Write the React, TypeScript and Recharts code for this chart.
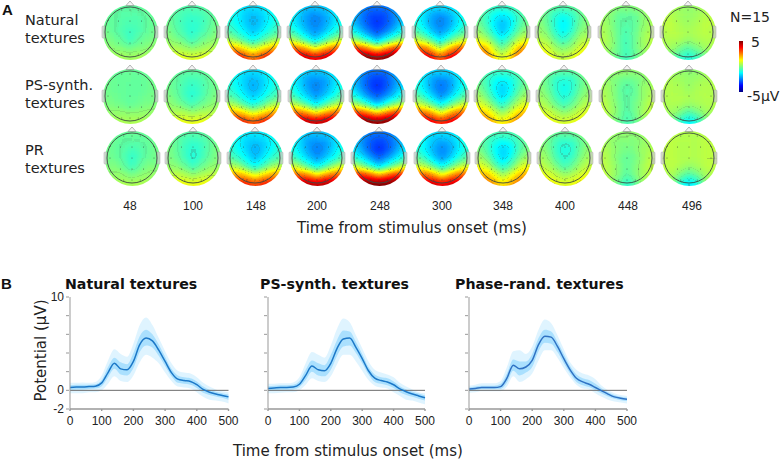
import { Area, Bar, BarChart, ComposedChart, Line, ReferenceLine, Scatter, ScatterChart, XAxis, YAxis } from "recharts";

type Grid = number[][];

// scalp potentials in uV, rows run front to back, columns run midline to edge (left/right mirrored)
const ROW_POS = [0.9, 0.6, 0.3, 0, -0.3, -0.6, -0.9];
const COL_POS = [0, 0.3, 0.6, 0.9];
const TIME_LABELS = ["48", "100", "148", "200", "248", "300", "348", "400", "448", "496"];
const ROW_LABELS = [["Natural", "textures"], ["PS-synth.", "textures"], ["PR", "textures"]];

const NATURAL_MAPS: Grid[] = [
  [[-.3,-.3,-.2,-.2],[-.4,-.4,-.3,-.2],[-.5,-.45,-.3,-.2],[-.7,-.5,-.3,-.1],[-.7,-.3,-.1,0],[-.1,0,.1,.2],[.3,.4,.4,.3]],
  [[-.4,-.4,-.3,-.2],[-.7,-.6,-.4,-.2],[-.8,-.7,-.4,-.1],[-.9,-.6,-.3,0],[-.7,-.2,0,.2],[.1,.3,.5,.5],[.9,1,1,.8]],
  [[-1.5,-1.5,-1.2,-1],[-1.9,-1.7,-1.3,-1],[-2,-1.7,-1.2,-.8],[-1.8,-1.4,-.9,-.4],[-1.2,-.6,0,.5],[.6,1.3,2,2.2],[2.5,3.2,3.8,3]],
  [[-1.8,-1.8,-1.5,-1.2],[-2.4,-2.2,-1.7,-1.2],[-2.5,-2.2,-1.7,-1.1],[-2.3,-1.9,-1.2,-.6],[-1.7,-.8,0,.7],[1,2,2.7,3],[3.8,4.2,4.3,3.7]],
  [[-2.6,-2.6,-2.3,-1.9],[-3.1,-3,-2.5,-1.9],[-3.3,-3,-2.4,-1.7],[-3,-2.5,-1.8,-1],[-2,-1,-.2,.5],[1.3,2.3,3.2,3.5],[4.6,5,5,4.5]],
  [[-1.5,-1.5,-1.3,-1],[-2.4,-2.1,-1.5,-1],[-2.5,-2.2,-1.5,-.9],[-2.3,-1.8,-1,-.4],[-1.5,-.5,.3,.8],[.5,1.8,2.8,3],[2.8,3.8,4.2,3.2]],
  [[-.7,-.7,-.4,-.3],[-1.5,-1.2,-.7,-.2],[-1.9,-1.5,-.6,-.1],[-1.9,-1.1,-.2,.3],[-1.1,-.3,.6,1],[-.2,.7,2,2.2],[.9,1.5,2.8,2.5]],
  [[-.4,-.3,-.2,0],[-1.1,-.9,-.3,0],[-1.4,-1,-.2,.1],[-1.3,-.8,0,.3],[-.8,-.2,.4,.6],[0,.3,.9,1.1],[.6,.9,1.3,1.4]],
  [[.1,.1,.2,.3],[-.3,-.3,.1,.3],[-.4,-.3,.1,.4],[-.5,-.3,.2,.5],[-.6,-.2,.3,.6],[-.6,-.2,.2,.5],[-.7,-.3,.1,.4]],
  [[.2,.3,.4,.5],[.2,.3,.5,.6],[.3,.4,.6,.6],[.4,.5,.6,.5],[.2,.4,.5,.5],[-.4,-.1,.3,.4],[-1,-.7,-.2,.2]],
];

const PS_MAPS: Grid[] = [
  [[-.2,-.2,-.2,-.1],[-.25,-.25,-.2,-.1],[-.3,-.25,-.2,-.1],[-.3,-.25,-.15,-.1],[-.3,-.15,-.05,0],[.1,.15,.2,.2],[.4,.45,.4,.3]],
  [[-.3,-.3,-.2,-.1],[-.6,-.5,-.3,-.1],[-.8,-.6,-.3,-.1],[-.9,-.6,-.2,0],[-.6,-.2,0,.2],[.2,.4,.5,.5],[1,1.1,1,.8]],
  [[-1.5,-1.5,-1.2,-.9],[-2,-1.7,-1.3,-.9],[-2.1,-1.7,-1.2,-.8],[-1.8,-1.4,-.8,-.4],[-1.1,-.6,.1,.5],[.7,1.4,2,2.2],[2.8,3.4,3.6,3]],
  [[-1.7,-1.7,-1.4,-1.1],[-2.3,-2.2,-1.7,-1.1],[-2.5,-2.2,-1.6,-1],[-2.3,-1.8,-1.2,-.5],[-1.5,-.7,.1,.7],[1.2,2.1,2.7,2.8],[4.2,4.4,4.3,3.6]],
  [[-2.6,-2.6,-2.2,-1.8],[-3.2,-3,-2.4,-1.8],[-3.4,-3,-2.3,-1.6],[-2.9,-2.4,-1.7,-.9],[-1.9,-1,-.1,.5],[1.5,2.4,3.1,3.3],[4.8,5,5,4.4]],
  [[-1.6,-1.6,-1.4,-1],[-2.4,-2.2,-1.6,-1],[-2.7,-2.3,-1.5,-.9],[-2.4,-1.8,-1,-.3],[-1.4,-.5,.3,.8],[.8,1.9,2.7,2.8],[3.3,3.9,4,3.2]],
  [[-.6,-.6,-.4,-.2],[-1.3,-1.1,-.6,-.2],[-1.7,-1.3,-.5,0],[-1.7,-1,-.1,.4],[-1,-.2,.6,1],[.1,.8,1.7,1.9],[1.2,1.8,2.5,2.2]],
  [[-.3,-.3,-.1,0],[-.9,-.8,-.3,0],[-1.1,-.9,-.2,.1],[-1,-.7,0,.3],[-.7,-.2,.3,.6],[.1,.4,.8,1],[.8,1,1.2,1.1]],
  [[.2,.2,.2,.3],[-.2,-.1,.1,.3],[-.5,-.2,.2,.4],[-.4,-.2,.2,.5],[-.4,-.1,.3,.7],[-.5,-.1,.4,.7],[-.6,-.2,.2,.5]],
  [[.1,.2,.3,.4],[.2,.3,.4,.5],[.2,.4,.5,.5],[.4,.5,.5,.5],[.3,.4,.5,.5],[-.5,-.1,.3,.4],[-1.4,-.9,-.1,.2]],
];

const PR_MAPS: Grid[] = [
  [[-.2,-.2,-.2,-.1],[-.35,-.35,-.25,-.1],[-.6,-.4,-.25,-.1],[-.8,-.45,-.2,-.1],[-.7,-.25,0,0],[-.1,.1,.2,.2],[.4,.45,.4,.3]],
  [[-.4,-.35,-.3,-.15],[-.7,-.6,-.3,-.1],[-.9,-.7,-.3,0],[-1,-.6,-.2,0],[-.7,-.2,.1,.2],[.1,.4,.6,.6],[1,1.2,1.1,.9]],
  [[-1.4,-1.4,-1.1,-.9],[-1.8,-1.7,-1.3,-.9],[-2.1,-1.7,-1.2,-.8],[-1.9,-1.4,-.8,-.4],[-1.2,-.6,.2,.5],[.7,1.5,2.1,2.2],[3,3.5,3.6,3]],
  [[-1.8,-1.8,-1.5,-1.1],[-2.3,-2.2,-1.7,-1.1],[-2.6,-2.2,-1.6,-1],[-2.3,-1.8,-1.2,-.5],[-1.4,-.7,.2,.8],[1.2,2.2,2.7,2.9],[4.3,4.5,4.4,3.7]],
  [[-2.6,-2.6,-2.2,-1.8],[-3.1,-2.9,-2.4,-1.7],[-3.4,-3,-2.2,-1.5],[-2.8,-2.2,-1.5,-.8],[-1.7,-.9,0,.7],[1.8,2.7,3.3,3.5],[5,5,5,4.5]],
  [[-1.5,-1.5,-1.3,-.9],[-2.1,-1.9,-1.4,-.9],[-2.5,-2.1,-1.4,-.9],[-2.3,-1.7,-.9,-.3],[-1.3,-.5,.4,.8],[1,2,2.8,2.9],[3.8,4.2,4.2,3.4]],
  [[-.5,-.5,-.4,-.2],[-1.2,-1,-.5,-.2],[-1.7,-1.3,-.5,0],[-1.7,-1,-.1,.4],[-1,-.3,.7,1.1],[.2,1,1.9,2.1],[1.4,2,2.7,2.4]],
  [[-.2,-.2,0,.1],[-.8,-.7,-.2,.1],[-1,-.8,-.1,.2],[-.9,-.6,.1,.4],[-.6,-.1,.4,.7],[.2,.5,.9,1.1],[.9,1.1,1.3,1.3]],
  [[.2,.2,.3,.4],[0,0,.2,.4],[-.1,0,.3,.5],[-.3,-.1,.3,.6],[-.3,0,.4,.7],[-.4,0,.4,.7],[-.9,-.3,.3,.6]],
  [[.5,.5,.6,.6],[.5,.5,.6,.6],[.5,.5,.6,.6],[.5,.5,.6,.6],[.2,.4,.6,.6],[-.5,-.1,.4,.5],[-1.5,-1,.1,.4]],
];

const ELECTRODE_X = [0, 0, 0, 0, 0, -.42, .42, -.42, .42, -.8, .8, -.8, .8, -.3, .3, -.3, .3];
const ELECTRODE_Y = [.8, .4, 0, -.4, -.8, .4, .4, -.4, -.4, 0, 0, .42, .42, .8, .8, -.8, -.8];

// head centres in px, per row
const HEAD_X = [
  [130, 192, 253, 315, 377, 440, 502, 563, 626, 688],
  [130, 192, 253, 316, 377, 441, 502, 564, 627, 689],
  [132, 193, 255, 317, 379, 442, 503, 565, 627, 689],
];
const HEAD_Y = [32, 96, 158];
const TIME_LABEL_X = [130, 193, 256, 317, 380, 442, 503, 565, 628, 692];

// ERP traces
const TIMES = [0, 20, 40, 60, 80, 100, 120, 140, 160, 180, 200, 220, 240, 260, 280, 300, 320, 340, 360, 380, 400, 420, 440, 460, 480, 500];

const NATURAL_MEAN = [.3, .35, .35, .4, .45, .8, 1.9, 2.9, 2.3, 2.2, 3.1, 4.9, 5.6, 5.3, 4.3, 3.1, 1.9, 1.2, 1.05, .95, .6, .1, -.2, -.4, -.55, -.7];
const NATURAL_OUTER_HIGH = [.8, .8, .85, .8, .9, 1.6, 3.2, 4.4, 3.9, 3.6, 5, 7, 7.8, 7, 5.6, 4.2, 2.9, 2.1, 1.9, 1.8, 1.4, .8, .4, .1, -.1, -.2];
const NATURAL_OUTER_LOW = [-.3, -.3, -.3, -.2, -.2, 0, .7, 1.5, 1, .9, 1.6, 3, 3.8, 3.5, 2.9, 1.9, 1, .4, .3, .2, -.2, -.7, -1, -1.1, -1.2, -1.4];
const NATURAL_INNER_HIGH = [.55, .6, .6, .6, .65, 1.1, 2.5, 3.5, 3, 2.8, 4, 5.8, 6.5, 6, 4.9, 3.6, 2.3, 1.6, 1.4, 1.3, .95, .4, .05, -.15, -.3, -.45];
const NATURAL_INNER_LOW = [.05, .1, .1, .15, .2, .45, 1.4, 2.3, 1.7, 1.6, 2.4, 4.1, 4.8, 4.6, 3.7, 2.6, 1.5, .8, .7, .6, .25, -.25, -.5, -.65, -.8, -1];

const PS_MEAN = [.2, .25, .3, .3, .35, .65, 1.6, 2.6, 2.2, 2.1, 2.9, 4.5, 5.5, 5.6, 4.6, 3.4, 2.1, 1.3, 1.05, .9, .6, .15, -.15, -.4, -.6, -.8];
const PS_OUTER_HIGH = [.7, .7, .75, .75, .85, 1.4, 2.9, 4.1, 3.8, 3.5, 4.8, 6.6, 7.7, 7.3, 5.9, 4.5, 3.1, 2.2, 1.9, 1.7, 1.4, .8, .4, .1, -.2, -.3];
const PS_OUTER_LOW = [-.3, -.3, -.25, -.2, -.2, 0, .6, 1.3, 1, .9, 1.5, 2.8, 3.8, 3.8, 3.1, 2.1, 1.1, .5, .3, .2, -.2, -.6, -1, -1.1, -1.3, -1.5];
const PS_INNER_HIGH = [.45, .5, .55, .55, .6, 1, 2.2, 3.2, 2.9, 2.7, 3.8, 5.4, 6.4, 6.3, 5.2, 3.9, 2.5, 1.7, 1.4, 1.3, .95, .45, .1, -.15, -.35, -.55];
const PS_INNER_LOW = [-.05, 0, .05, .05, .1, .35, 1.1, 2, 1.6, 1.5, 2.2, 3.7, 4.7, 4.8, 4, 2.9, 1.7, .9, .7, .55, .25, -.2, -.5, -.7, -.9, -1.1];

const PR_MEAN = [.15, .2, .3, .3, .3, .4, 1.3, 2.7, 2.3, 2.5, 3.2, 4.9, 5.8, 5.7, 4.7, 3.4, 2.2, 1.3, .9, .65, .3, -.05, -.4, -.7, -.85, -.95];
const PR_OUTER_HIGH = [.5, .6, .75, .75, .75, 1, 2.5, 4.2, 4.3, 3.9, 4.7, 6.5, 7.6, 7.2, 5.9, 4.4, 3, 2.2, 1.8, 1.6, 1.2, .5, 0, -.3, -.5, -.6];
const PR_OUTER_LOW = [-.25, -.2, -.1, -.1, -.1, -.1, .4, 1.5, .9, 1.2, 1.8, 3.2, 4.3, 4.3, 3.5, 2.4, 1.4, .6, .2, .1, -.3, -.7, -1, -1.2, -1.3, -1.4];
const PR_INNER_HIGH = [.3, .4, .5, .5, .5, .7, 1.8, 3.3, 3.1, 3.1, 3.9, 5.6, 6.5, 6.3, 5.2, 3.9, 2.6, 1.7, 1.3, 1.1, .7, .2, -.2, -.5, -.7, -.8];
const PR_INNER_LOW = [0, .05, .15, .15, .15, .15, .8, 2.1, 1.6, 1.9, 2.5, 4.2, 5.1, 5, 4.1, 2.9, 1.8, .9, .55, .35, 0, -.35, -.65, -.9, -1.05, -1.15];

const X_TICKS = [0, 100, 200, 300, 400, 500];
const Y_TICKS = [-2, 0, 2, 4, 6, 8, 10];
const Y_LABELLED = [-2, 0, 10];
const COLORBAR = [{ name: "scale", range: [-5, 5] }];

const HEAD_R = 27.5;
const HEAT_SIZE = 84;
const OVERLAY_SIZE = 66;
const SANS = "'Liberation Sans', Arial, sans-serif";
const WIDE = "'DejaVu Sans', Verdana, sans-serif";

// grey encodes the potential so the blur mixes values, the filter then applies the jet colormap
const gray = (v: number) => {
  const g = Math.round(((Math.max(-5, Math.min(5, v)) + 5) / 10) * 255);
  return `rgb(${g},${g},${g})`;
};

// faint iso-potential lines every 0.5 uV
const contourTable = Array.from({ length: 401 }, (_, i) => {
  const v = (i / 400) * 10 - 5 - 0.15;
  const m = ((v % 0.5) + 0.5) % 0.5;
  return m < 0.02 || m > 0.48 ? 0.3 : 0;
}).join(" ");

const gridPoints = (grid: Grid) => {
  const pts: any[] = [];
  grid.forEach((row, r) => {
    row.forEach((value, c) => {
      const sides = c === 0 ? [1] : [1, -1];
      sides.forEach((s) => {
        pts.push({ xv: COL_POS[c] * s, yv: ROW_POS[r], value, edgeX: c === 3 ? s : 0, edgeY: r === 0 ? -1 : r === 6 ? 1 : 0 });
      });
    });
  });
  return pts;
};

const HeatCell = (props: any) => {
  const { cx, cy, payload } = props;
  const s = 0.3 * HEAD_R;
  const ext = 30;
  const x = cx - s / 2 - (payload.edgeX < 0 ? ext : 0);
  const y = cy - s / 2 - (payload.edgeY < 0 ? ext : 0);
  const w = s + (payload.edgeX !== 0 ? ext : 0) + 0.5;
  const h = s + (payload.edgeY !== 0 ? ext : 0) + 0.5;
  return <rect x={x} y={y} width={w} height={h} fill={gray(payload.value)} />;
};

const ElectrodeDot = (props: any) => <circle cx={props.cx} cy={props.cy} r={0.5} fill="#333" fillOpacity={0.8} />;

const electrodes = ELECTRODE_X.map((xv, i) => ({ xv, yv: ELECTRODE_Y[i] }));

const TopoMap = ({ cx, cy, grid }: { cx: number; cy: number; grid: Grid }) => {
  const heatDomain = [-(HEAT_SIZE / 2) / HEAD_R, HEAT_SIZE / 2 / HEAD_R];
  const overDomain = [-(OVERLAY_SIZE / 2) / HEAD_R, OVERLAY_SIZE / 2 / HEAD_R];
  const c = OVERLAY_SIZE / 2;
  return (
    <>
      <div style={{ position: "absolute", left: cx - HEAD_R, top: cy - HEAD_R, width: HEAD_R * 2, height: HEAD_R * 2, borderRadius: "50%", overflow: "hidden" }}>
        <div style={{ position: "absolute", left: HEAD_R - HEAT_SIZE / 2, top: HEAD_R - HEAT_SIZE / 2, width: HEAT_SIZE, height: HEAT_SIZE, filter: "url(#jetmap)" }}>
          <ScatterChart width={HEAT_SIZE} height={HEAT_SIZE} margin={{ top: 0, right: 0, bottom: 0, left: 0 }}>
            <XAxis type="number" dataKey="xv" domain={heatDomain} hide />
            <YAxis type="number" dataKey="yv" domain={heatDomain} hide />
            <Scatter data={gridPoints(grid)} shape={HeatCell} isAnimationActive={false} />
          </ScatterChart>
        </div>
      </div>
      <div style={{ position: "absolute", left: cx - c, top: cy - c, width: OVERLAY_SIZE, height: OVERLAY_SIZE }}>
        <ScatterChart width={OVERLAY_SIZE} height={OVERLAY_SIZE} margin={{ top: 0, right: 0, bottom: 0, left: 0 }}>
          <XAxis type="number" dataKey="xv" domain={overDomain} hide />
          <YAxis type="number" dataKey="yv" domain={overDomain} hide />
          <g>
            <polygon points={`${c - 4},${c - 26.5} ${c},${c - 31} ${c + 4},${c - 26.5}`} fill="#f4f4f4" stroke="#888" strokeWidth={0.6} />
            <rect x={c - 28} y={c - 6} width={3} height={12} rx={1} fill="#ccc" fillOpacity={0.7} stroke="#aaa" strokeWidth={0.5} />
            <rect x={c + 25} y={c - 6} width={3} height={12} rx={1} fill="#ccc" fillOpacity={0.7} stroke="#aaa" strokeWidth={0.5} />
            <circle cx={c} cy={c} r={25} fill="none" stroke="#3d4a44" strokeWidth={0.9} />
          </g>
          <Scatter data={electrodes} shape={ElectrodeDot} isAnimationActive={false} />
        </ScatterChart>
      </div>
    </>
  );
};

const YTick = (props: any) => {
  const { x, y, payload, showLabels } = props;
  return (
    <g>
      <line x1={x + 4} x2={x + 7} y1={y} y2={y} stroke="#999" />
      {showLabels && Y_LABELLED.includes(payload.value) ? (
        <text x={x + 2} y={y + 4} textAnchor="end" fontSize={12} fontFamily={SANS} fill="#222">{payload.value}</text>
      ) : null}
    </g>
  );
};

const ErpChart = ({ left, mean, outerHigh, outerLow, innerHigh, innerLow, lineColor, showLabels, width }: any) => {
  const data = TIMES.map((t, i) => ({
    t,
    mean: mean[i],
    outer: [outerLow[i], outerHigh[i]],
    inner: [innerLow[i], innerHigh[i]],
  }));
  return (
    <div style={{ position: "absolute", left, top: 285 }}>
      <ComposedChart width={width + 50} height={149} data={data} margin={{ top: 12, right: 20, bottom: 0, left: 0 }}>
        <XAxis
          type="number"
          dataKey="t"
          domain={[0, 500]}
          ticks={X_TICKS}
          height={25}
          tickSize={2}
          stroke="#999"
          strokeWidth={1.4}
          tick={{ fontSize: 12, fontFamily: SANS, fill: "#222" }}
          tickMargin={5}
        />
        <YAxis type="number" domain={[-2, 10]} ticks={Y_TICKS} width={30} interval={0} tickLine={false} stroke="#999" tick={<YTick showLabels={showLabels} />} />
        <Area dataKey="outer" type="monotone" stroke="none" fill="#7fd4ff" fillOpacity={0.25} isAnimationActive={false} dot={false} activeDot={false} />
        <Area dataKey="inner" type="monotone" stroke="none" fill="#4dbdfb" fillOpacity={0.36} isAnimationActive={false} dot={false} activeDot={false} />
        <ReferenceLine y={0} stroke="#6b6b6b" strokeWidth={1} />
        <Line dataKey="mean" type="monotone" stroke={lineColor} strokeWidth={1.5} dot={false} isAnimationActive={false} />
      </ComposedChart>
    </div>
  );
};

const label = (text: string, left: number, top: number, size: number, extra: any = {}) => {
  const { key, ...style } = extra;
  return (
    <div key={key} style={{ position: "absolute", left, top, fontSize: size, lineHeight: 1, whiteSpace: "nowrap", fontFamily: WIDE, color: "#222", ...style }}>{text}</div>
  );
};

export default function App() {
  const rows = [NATURAL_MAPS, PS_MAPS, PR_MAPS];
  return (
    <div style={{ position: "absolute", left: 0, top: 0, width: 780, height: 463, background: "#fff", overflow: "hidden" }}>
      <svg width={0} height={0} style={{ position: "absolute" }}>
        <defs>
          <filter id="jetmap" x="0" y="0" width="1" height="1" colorInterpolationFilters="sRGB">
            <feGaussianBlur in="SourceGraphic" stdDeviation={3.6} result="b" />
            <feComponentTransfer in="b" result="c">
              <feFuncR type="table" tableValues="0 0 0 0 .5 1 1 1 .5" />
              <feFuncG type="table" tableValues="0 0 .5 1 1 1 .5 0 0" />
              <feFuncB type="table" tableValues=".5 1 1 1 .5 0 0 0 0" />
            </feComponentTransfer>
            <feColorMatrix in="b" type="matrix" values="0 0 0 0 .3  0 0 0 0 .35  0 0 0 0 .3  1 0 0 0 0" result="a" />
            <feComponentTransfer in="a" result="l">
              <feFuncA type="table" tableValues={contourTable} />
            </feComponentTransfer>
            <feMerge>
              <feMergeNode in="c" />
              <feMergeNode in="l" />
            </feMerge>
          </filter>
          <linearGradient id="jetbar" x1="0" y1="1" x2="0" y2="0">
            <stop offset="0" stopColor="#000080" />
            <stop offset="0.125" stopColor="#0000ff" />
            <stop offset="0.375" stopColor="#00ffff" />
            <stop offset="0.625" stopColor="#ffff00" />
            <stop offset="0.875" stopColor="#ff0000" />
            <stop offset="1" stopColor="#800000" />
          </linearGradient>
        </defs>
      </svg>

      {label("A", 2, 2, 15, { fontWeight: 700, color: "#111", fontFamily: SANS })}
      {ROW_LABELS.map((lines, r) =>
        lines.map((t, i) => label(t, 25, [13, 78, 143][r] + i * 18, 14.5, { key: `${r}-${i}` }))
      )}

      {rows.map((maps, r) =>
        maps.map((grid, i) => <TopoMap key={`${r}-${i}`} cx={HEAD_X[r][i]} cy={HEAD_Y[r]} grid={grid} />)
      )}

      {TIME_LABELS.map((t, i) => (
        <div key={t} style={{ position: "absolute", left: TIME_LABEL_X[i] - 20, width: 40, top: 200, textAlign: "center", fontSize: 12, lineHeight: 1, fontFamily: SANS, color: "#222" }}>{t}</div>
      ))}
      {label("Time from stimulus onset (ms)", 297, 221, 15)}

      {label("N=15", 730, 10, 14)}
      <div style={{ position: "absolute", left: 729, top: 40 }}>
        <BarChart width={24} height={53} data={COLORBAR} margin={{ top: 1, right: 0, bottom: 1, left: 0 }}>
          <XAxis dataKey="name" hide />
          <YAxis type="number" domain={[-5, 5]} hide />
          <Bar dataKey="range" fill="url(#jetbar)" barSize={4} isAnimationActive={false} />
        </BarChart>
      </div>
      {label("5", 751, 35, 14)}
      {label("-5µV", 747, 89, 14)}

      {label("B", 1, 276, 15, { fontWeight: 700, color: "#111", fontFamily: SANS })}
      {label("Natural textures", 65, 277, 14.2, { fontWeight: 700, color: "#111" })}
      {label("PS-synth. textures", 260, 277, 14.2, { fontWeight: 700, color: "#111" })}
      {label("Phase-rand. textures", 455, 277, 14.2, { fontWeight: 700, color: "#111" })}
      {label("Potential (µV)", 41 - 60, 350 - 7.5, 15, { width: 120, textAlign: "center", transform: "rotate(-90deg)" })}

      <ErpChart left={40} width={158.5} mean={NATURAL_MEAN} outerHigh={NATURAL_OUTER_HIGH} outerLow={NATURAL_OUTER_LOW} innerHigh={NATURAL_INNER_HIGH} innerLow={NATURAL_INNER_LOW} lineColor="#1c78c8" showLabels />
      <ErpChart left={238} width={157} mean={PS_MEAN} outerHigh={PS_OUTER_HIGH} outerLow={PS_OUTER_LOW} innerHigh={PS_INNER_HIGH} innerLow={PS_INNER_LOW} lineColor="#1c78c8" />
      <ErpChart left={439} width={158} mean={PR_MEAN} outerHigh={PR_OUTER_HIGH} outerLow={PR_OUTER_LOW} innerHigh={PR_INNER_HIGH} innerLow={PR_INNER_LOW} lineColor="#2f72c4" />

      {label("Time from stimulus onset (ms)", 233, 444, 15)}
    </div>
  );
}
